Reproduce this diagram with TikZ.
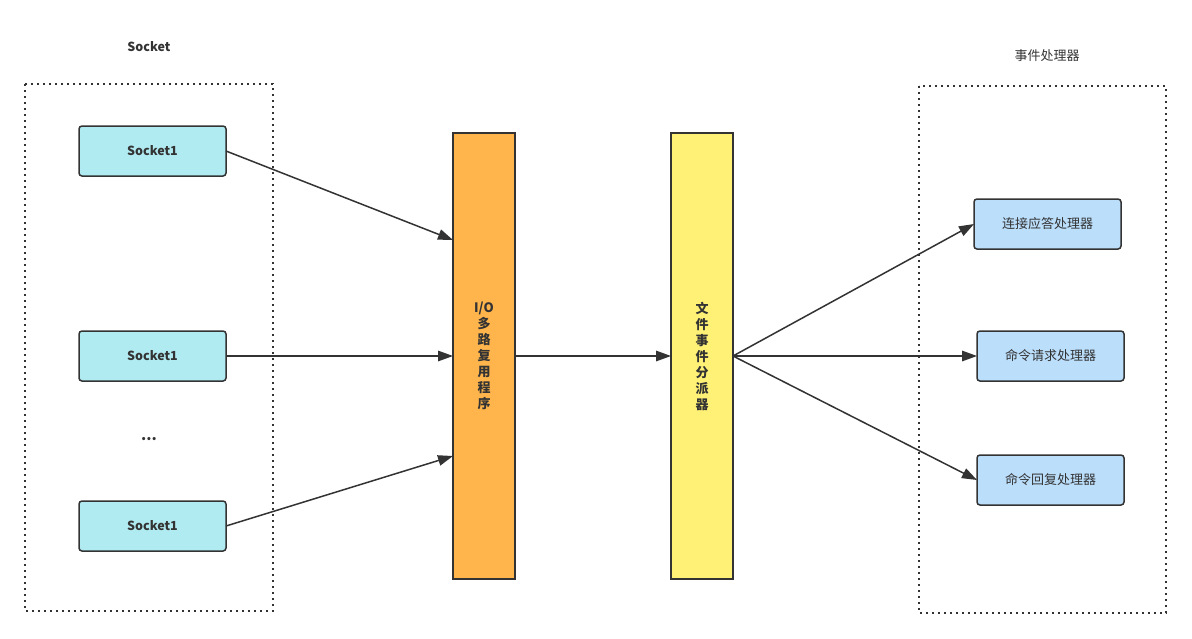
\documentclass[tikz,border=0pt]{standalone}
\usepackage{fontspec}
\setmainfont{Noto Sans CJK SC}
\usetikzlibrary{arrows.meta}
\definecolor{edge}{HTML}{333333}
\definecolor{cyanfill}{HTML}{B1EBF2}
\definecolor{orangefill}{HTML}{FFB54C}
\definecolor{yellowfill}{HTML}{FFF176}
\definecolor{bluefill}{HTML}{BBDEFB}
\tikzset{
  sockbox/.style={draw=edge, line width=1.5pt, rounded corners=3pt, fill=cyanfill,
    minimum width=147pt, minimum height=50pt, inner sep=0pt, outer sep=0pt,
    font=\fontsize{12.5}{15}\selectfont\bfseries, text=edge},
  handbox/.style={draw=edge, line width=1.5pt, rounded corners=3pt, fill=bluefill,
    minimum width=147pt, minimum height=50pt, inner sep=0pt, outer sep=0pt,
    font=\fontsize{13}{15}\selectfont, text=edge},
  tallbox/.style={draw=edge, line width=1.5pt, minimum width=62pt, minimum height=446pt,
    inner sep=0pt, outer sep=0pt, align=center, text=edge,
    font=\fontsize{13}{16}\selectfont\bfseries},
  groupbox/.style={draw=edge, line width=2.2pt, dash pattern=on 2.2pt off 3.8pt},
  titletext/.style={text=edge, inner sep=0pt},
  conn/.style={draw=edge, line width=1.5pt, -{Triangle[length=15pt,width=10.5pt]}}
}
\begin{document}
\begin{tikzpicture}[x=1pt,y=-1pt]
\useasboundingbox (0,0) rectangle (1192,638);
% group boxes
\draw[groupbox] (25,84) rectangle (273,611);
\draw[groupbox] (919,86) rectangle (1166,613);
\node[titletext, font=\fontsize{12.5}{15}\selectfont\bfseries] (ttlsock) at (149,47) {Socket};
\node[titletext, font=\fontsize{13}{15}\selectfont] (ttlhand) at (1047,56) {事件处理器};
% sockets
\node[sockbox] (s1) at (152.5,151) {Socket1};
\node[sockbox] (s2) at (152.5,356) {Socket1};
\node[sockbox] (s3) at (152.5,526) {Socket1};
\node[titletext, font=\fontsize{15}{15}\selectfont\bfseries] (dots) at (149,439) {...};
% tall boxes
\node[tallbox, fill=orangefill] (io) at (484,356) {I/O\\多\\路\\复\\用\\程\\序};
\node[tallbox, fill=yellowfill] (fd) at (702,356) {文\\件\\事\\件\\分\\派\\器};
% handlers
\node[handbox] (h1) at (1047.5,224) {连接应答处理器};
\node[handbox] (h2) at (1050.5,356) {命令请求处理器};
\node[handbox] (h3) at (1050.5,480) {命令回复处理器};
% connector endpoints on io box
\coordinate (ioin1) at (453,240);
\coordinate (ioin3) at (453,456);
% connectors
\draw[conn] (s1.east) -- (ioin1);
\draw[conn] (s2.east) -- (io.west);
\draw[conn] (s3.east) -- (ioin3);
\draw[conn] (io.east) -- (fd.west);
\draw[conn] (fd.east) -- (h1.west);
\draw[conn] (fd.east) -- (h2.west);
\draw[conn] (fd.east) -- (h3.west);
\end{tikzpicture}
\end{document}
